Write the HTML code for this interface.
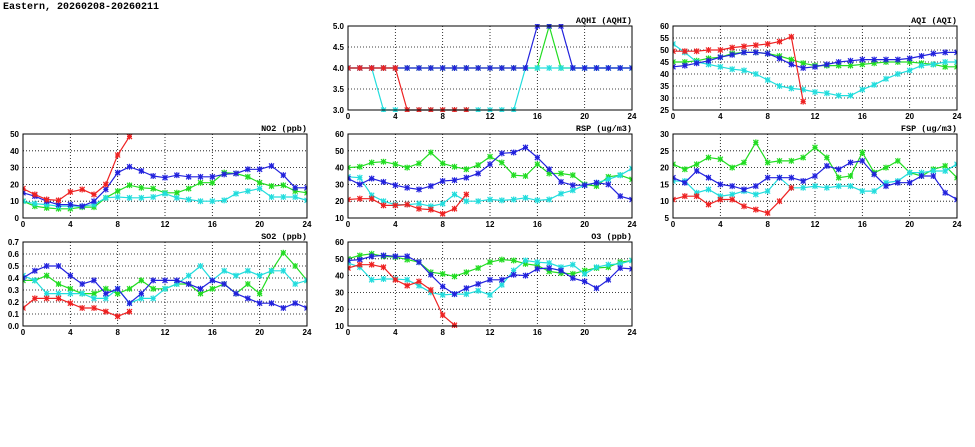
<!DOCTYPE html>
<html><head><meta charset="utf-8"><style>
html,body{margin:0;padding:0;background:#fff;width:975px;height:447px;overflow:hidden}
svg text{font-family:"Liberation Sans",sans-serif;font-weight:bold;font-size:8px;fill:#000}
svg text.ttl{font-family:"Liberation Mono",monospace;font-size:8.5px}
</style></head><body>
<svg id="chart" width="975" height="447">
<text x="3" y="9" style="font-family:'Liberation Mono',monospace;font-size:10px">Eastern, 20260208-20260211</text>
</svg>
<script>
const hours = [0,1,2,3,4,5,6,7,8,9,10,11,12,13,14,15,16,17,18,19,20,21,22,23,24];
const xTicks = [0,4,8,12,16,20,24];
const seriesColors = {green:"#22dd22", cyan:"#22dddd", blue:"#2222dd", red:"#ee2222"};

const aqhiTicks = [3.0,3.5,4.0,4.5,5.0];
const aqhiGreen = [4,4,4,4,4,4,4,4,4,4,4,4,4,4,4,4,4,5,4,4,4,4,4,4,4];
const aqhiCyan = [4,4,4,3,3,3,3,3,3,3,3,3,3,3,3,4,4,4,4,4,4,4,4,4,4];
const aqhiBlue = [4,4,4,4,4,4,4,4,4,4,4,4,4,4,4,4,5,5,5,4,4,4,4,4,4];
const aqhiRed = [4,4,4,4,4,3,3,3,3,3,3];

const aqiTicks = [25,30,35,40,45,50,55,60];
const aqiGreen = [45,45,45.5,46.5,47,48.5,49,49,48.5,47.5,46,44.5,43.5,43.5,43.5,43.5,44,44.5,45,45,45,44.5,44,43,43];
const aqiCyan = [52.5,49,45,44,43,42,41.5,40,37.5,35,34,33.5,32.5,32,31,31,33.5,35.5,38,40,41.5,43.5,44,45,45];
const aqiBlue = [43,43.5,44.5,45.5,47,48,49,49,48.5,46.5,44,42.5,43,44,45,45.5,46,46,46,46,46.5,47.5,48.5,49,49];
const aqiRed = [49.5,49.5,49.5,50,50,51,51.5,52,52.5,53.5,55.5,28.5];

const no2Ticks = [0,10,20,30,40,50];
const no2Green = [10,7,6,5.5,5.5,6.5,6.5,12,16,19.5,18,17.5,15,15,17.5,21,21,27,26.5,24.5,21,19,19.5,16,15];
const no2Cyan = [10,8.5,8,7,7,7,8,12,12.5,12,12,12.5,14.5,12,11,10,10,10.5,14.5,16,17.5,12.5,12.5,12.5,10.5];
const no2Blue = [15,13,10,8,8,7,10,17,27,30.5,28,25,24,25.5,24.5,24.5,24.5,26,26.5,29,29,31,25.5,18,18];
const no2Red = [17.5,14,11,10.5,15.5,17,14,20,37.5,48.5];

const rspTicks = [10,20,30,40,50,60];
const rspGreen = [40,40.5,43,43.5,42,40,42.5,49,42.5,40.5,39,41.5,46.5,43,35.5,35,42,36.5,36.5,35.5,30,29,34.5,35.5,33];
const rspCyan = [34.5,34,23.5,20,18,18,18.5,17,18.5,24,20,20,21,20.5,21,22,20.5,21,24.5,26.5,29.5,31,33,35.5,39.5];
const rspBlue = [33.5,30,33.5,31.5,29.5,28,27,29,32,32.5,34,36.5,42,48.5,49,52,46,39,31.5,29.5,29.5,31,30,23,21];
const rspRed = [21,21.5,21.5,17.5,17.5,18,15.5,15,12.5,15.5,24];

const fspTicks = [5,10,15,20,25,30];
const fspGreen = [21,19.5,21,23,22.5,20,21.5,27.5,21.5,22,22,23,26,23,17,17.5,24.5,18.5,20,22,18.5,17.5,19.5,20.5,17];
const fspCyan = [16,16,12.5,13.5,11.5,12,13,12,13,17,14,14,14.5,14,14.5,14.5,13,13,15.5,16,18.5,18.5,19,19,21];
const fspBlue = [17,15.5,19,17,15,14.5,13.5,14.5,17,17,17,16,17.5,20.5,19.5,21.5,22,18,14.5,15.5,15.5,17.5,17.5,12.5,10.5];
const fspRed = [10.5,11.5,11.5,9,10.5,10.5,8.5,7.5,6.5,10,14];

const so2Ticks = [0.0,0.1,0.2,0.3,0.4,0.5,0.6,0.7];
const so2Green = [.38,.38,.42,.35,.31,.27,.27,.31,.27,.31,.38,.31,.31,.35,.35,.27,.31,.35,.27,.35,.27,.46,.61,.50,.38];
const so2Cyan = [.42,.38,.27,.27,.27,.27,.23,.23,.31,.19,.23,.23,.31,.35,.42,.50,.38,.46,.42,.46,.42,.46,.46,.35,.38];
const so2Blue = [.40,.46,.50,.50,.42,.35,.38,.27,.31,.19,.27,.38,.38,.38,.35,.31,.38,.35,.27,.23,.19,.19,.15,.19,.15];
const so2Red = [.15,.23,.23,.23,.19,.15,.15,.12,.08,.12];

const o3Ticks = [10,20,30,40,50,60];
const o3Green = [50,52,53,51.5,51,49.5,48,42,41,39.5,42,44.5,48,49.5,49,47,46,42.5,41.5,41,43,44.5,45,48,49];
const o3Cyan = [47.5,45,37.5,38,38,37.5,34,30,28.5,29,29,31,28.5,34.5,43,49,48,47.5,45,46.5,41,45,46.5,47,49];
const o3Blue = [49,49.5,51.5,52,51.5,51.5,48,40.5,33.5,29,32.5,35,37.5,37.5,40.5,40,44,44.5,43,38.5,36.5,32.5,37.5,44.5,44];
const o3Red = [44.5,46.5,46.5,45,37.5,34,36.5,31.5,16.5,10.5];

const NS = "http://www.w3.org/2000/svg";
const svg = document.getElementById("chart");
function mk(tag, attrs, parent){const e=document.createElementNS(NS,tag);for(const k in attrs)e.setAttribute(k,attrs[k]);(parent||svg).appendChild(e);return e;}

let clipId=0;
function panel(key,title,x0,y0,ticks,dec,data){
  const W=284,H=84,x1=x0+W,y1=y0+H;
  const lo=ticks[0],hi=ticks[ticks.length-1];
  const sx=h=>x0+h/24*W, sy=v=>y1-(v-lo)/(hi-lo)*H;
  const g=mk("g",{});
  
  
  const t=mk("text",{x:x1,y:y0-3,"text-anchor":"end","class":"ttl"},g);
  t.textContent=title;
  
  
  ticks.forEach(v=>{
    const y=sy(v);
    if(v!==lo&&v!==hi){const l=mk("line",{x1:x0,x2:x1,y1:y,y2:y,stroke:"#000","stroke-width":0.8,"stroke-dasharray":"1,2"},g);
      
      }
    const tl=mk("text",{x:x0-4,y:y+3,"text-anchor":"end"},g);
    tl.textContent=v.toFixed(dec);
    
    
  });
  xTicks.forEach(h=>{
    const x=sx(h);
    if(h>0&&h<24){const l=mk("line",{x1:x,x2:x,y1:y0,y2:y1,stroke:"#000","stroke-width":0.8,"stroke-dasharray":"1,2"},g);
      
      }
    const tl=mk("text",{x:x,y:y1+9,"text-anchor":"middle"},g);
    tl.textContent=h;
    
    
  });
  const id="c"+(clipId++);
  const cp=mk("clipPath",{id:id},g);
  mk("rect",{x:x0,y:y0-2,width:W,height:H+4},cp);
  const pg=mk("g",{"clip-path":"url(#"+id+")"},g);
  data.forEach(([name,vals])=>{
    const col=seriesColors[name];
    const pts=vals.map((v,i)=>sx(hours[i]).toFixed(1)+","+sy(v).toFixed(1)).join(" ");
    const pl=mk("polyline",{points:pts,fill:"none",stroke:col,"stroke-width":1.2},pg);
    
    
    vals.forEach((v,i)=>{
      const cx=sx(hours[i]),cy=sy(v),r=2.5;
      const m=mk("path",{d:`M${cx-r},${cy-r}L${cx+r},${cy+r}M${cx-r},${cy+r}L${cx+r},${cy-r}M${cx},${cy-r-0.5}L${cx},${cy+r+0.5}M${cx-r},${cy}L${cx+r},${cy}`,stroke:col,"stroke-width":1.2},pg);
      
      
    });
  });
  const fr=mk("rect",{x:x0,y:y0,width:W,height:H,fill:"none",stroke:"#000","stroke-width":1},g);
  
  
}
panel("aqhi","AQHI (AQHI)",348,26,aqhiTicks,1,[["green",aqhiGreen],["cyan",aqhiCyan],["blue",aqhiBlue],["red",aqhiRed]]);
panel("aqi","AQI (AQI)",673,26,aqiTicks,0,[["green",aqiGreen],["cyan",aqiCyan],["blue",aqiBlue],["red",aqiRed]]);
panel("no2","NO2 (ppb)",23,134,no2Ticks,0,[["green",no2Green],["cyan",no2Cyan],["blue",no2Blue],["red",no2Red]]);
panel("rsp","RSP (ug/m3)",348,134,rspTicks,0,[["green",rspGreen],["cyan",rspCyan],["blue",rspBlue],["red",rspRed]]);
panel("fsp","FSP (ug/m3)",673,134,fspTicks,0,[["green",fspGreen],["cyan",fspCyan],["blue",fspBlue],["red",fspRed]]);
panel("so2","SO2 (ppb)",23,242,so2Ticks,1,[["green",so2Green],["cyan",so2Cyan],["blue",so2Blue],["red",so2Red]]);
panel("o3","O3 (ppb)",348,242,o3Ticks,0,[["green",o3Green],["cyan",o3Cyan],["blue",o3Blue],["red",o3Red]]);
</script>
</body></html>
